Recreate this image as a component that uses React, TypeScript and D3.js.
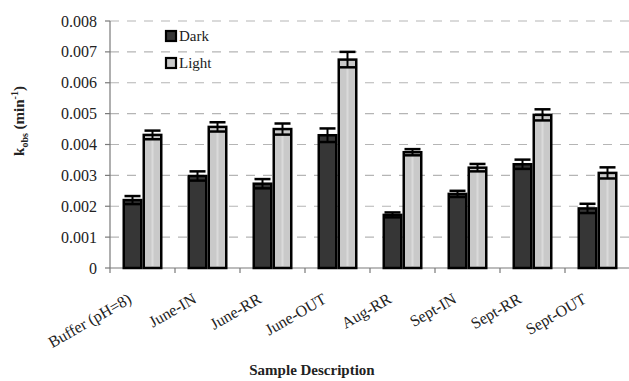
import React from "react";
import * as d3 from "d3";

const categories = ["Buffer (pH=8)", "June-IN", "June-RR", "June-OUT", "Aug-RR", "Sept-IN", "Sept-RR", "Sept-OUT"];
const darkValues = [0.0022, 0.00298, 0.00273, 0.0043, 0.00172, 0.0024, 0.00336, 0.00193];
const darkErrors = [0.00013, 0.00015, 0.00015, 0.00022, 0.00008, 0.0001, 0.00015, 0.00015];
const lightValues = [0.00431, 0.00457, 0.0045, 0.00675, 0.00375, 0.00325, 0.00496, 0.00308];
const lightErrors = [0.00014, 0.00015, 0.00018, 0.00025, 0.0001, 0.00012, 0.00018, 0.00018];
const yTicks = [0, 0.001, 0.002, 0.003, 0.004, 0.005, 0.006, 0.007, 0.008];
const seriesNames = ["Dark", "Light"];

const W = 629, H = 381;
const left = 110, right = 630, top = 21, bottom = 268;
const FONT = "'Liberation Serif', 'Times New Roman', serif";
const DARK = "#363636";
const LIGHT = "#c9c9c9";

export default function App() {
  const x = d3.scaleBand<string>().domain(categories).range([left, right]).paddingInner(0).paddingOuter(0);
  const y = d3.scaleLinear().domain([0, 0.008]).range([bottom, top]);
  const bw = x.bandwidth();
  const barW = 20;
  const groupOff = (bw - 2 * barW) / 2;

  const series = [
    { name: seriesNames[0], values: darkValues, errors: darkErrors, fill: DARK },
    { name: seriesNames[1], values: lightValues, errors: lightErrors, fill: LIGHT },
  ];

  return (
    <svg width={W} height={H} style={{ position: "absolute", left: 0, top: 0, background: "#fff" }} fontFamily={FONT}>
      {/* gridlines */}
      {yTicks.slice(1).map((t) => (
        <line key={"g" + t} x1={left} x2={W} y1={y(t)} y2={y(t)} stroke="#b5b5b5" strokeWidth={1.2} strokeDasharray="9,8" />
      ))}
      {/* y axis */}
      <line x1={left} x2={left} y1={top} y2={bottom} stroke="#7a7a7a" strokeWidth={1.2} />
      {yTicks.map((t) => (
        <g key={"yt" + t}>
          <line x1={left - 5} x2={left} y1={y(t)} y2={y(t)} stroke="#7a7a7a" strokeWidth={1.2} />
          <text x={97} y={y(t) + 5.5} textAnchor="end" fontSize={16} fill="#222">
            {t === 0 ? "0" : d3.format(".3f")(t)}
          </text>
        </g>
      ))}
      {/* x axis */}
      <line x1={left} x2={W} y1={bottom} y2={bottom} stroke="#7a7a7a" strokeWidth={1.2} />
      {categories.map((c) => (
        <line key={"xt" + c} x1={x(c)!} x2={x(c)!} y1={bottom} y2={bottom + 5} stroke="#7a7a7a" strokeWidth={1.2} />
      ))}
      {/* bars */}
      {categories.map((c, i) =>
        series.map((s, j) => {
          const bx = x(c)! + groupOff + j * barW;
          const v = s.values[i];
          const e = s.errors[i];
          const cx = bx + barW / 2;
          return (
            <g key={c + s.name}>
              <rect x={bx + 1.25} y={y(v)} width={barW - 2.5} height={bottom - y(v)} fill={s.fill} stroke="#000" strokeWidth={2.5} />
              {j === 1 && (
                <line x1={cx} x2={cx} y1={y(v) + 2} y2={bottom - 2} stroke="#dadada" strokeWidth={2} />
              )}
              <line x1={cx} x2={cx} y1={y(v + e)} y2={y(v - e)} stroke="#000" strokeWidth={2} />
              <line x1={bx + 2} x2={bx + barW - 2} y1={y(v + e)} y2={y(v + e)} stroke="#000" strokeWidth={2.5} />
              <line x1={bx + 2} x2={bx + barW - 2} y1={y(v - e)} y2={y(v - e)} stroke="#000" strokeWidth={2.5} />
            </g>
          );
        })
      )}
      {/* x labels */}
      {categories.map((c) => {
        const ax = x(c)! + bw / 2 - 10;
        const ay = 302;
        return (
          <text key={"xl" + c} x={ax} y={ay} textAnchor="end" fontSize={16} fill="#222" transform={`rotate(-30, ${ax}, ${ay})`}>
            {c}
          </text>
        );
      })}
      {/* legend */}
      {series.map((s, j) => (
        <g key={"lg" + s.name}>
          <rect x={166} y={31 + j * 27} width={10} height={10} fill={s.fill} stroke="#000" strokeWidth={2.2} />
          <text x={179} y={41 + j * 27} fontSize={15} fill="#222">{s.name}</text>
        </g>
      ))}
      {/* axis titles */}
      <text x={312} y={375} textAnchor="middle" fontSize={15} fontWeight="bold" fill="#222">Sample Description</text>
      <text transform={`translate(24, 121) rotate(-90)`} textAnchor="middle" fontSize={15} fontWeight="bold" fill="#222">
        k<tspan fontSize={10} dy={4}>obs</tspan><tspan dy={-4}> (min</tspan><tspan fontSize={10} dy={-6}>-1</tspan><tspan dy={6}>)</tspan>
      </text>
    </svg>
  );
}
